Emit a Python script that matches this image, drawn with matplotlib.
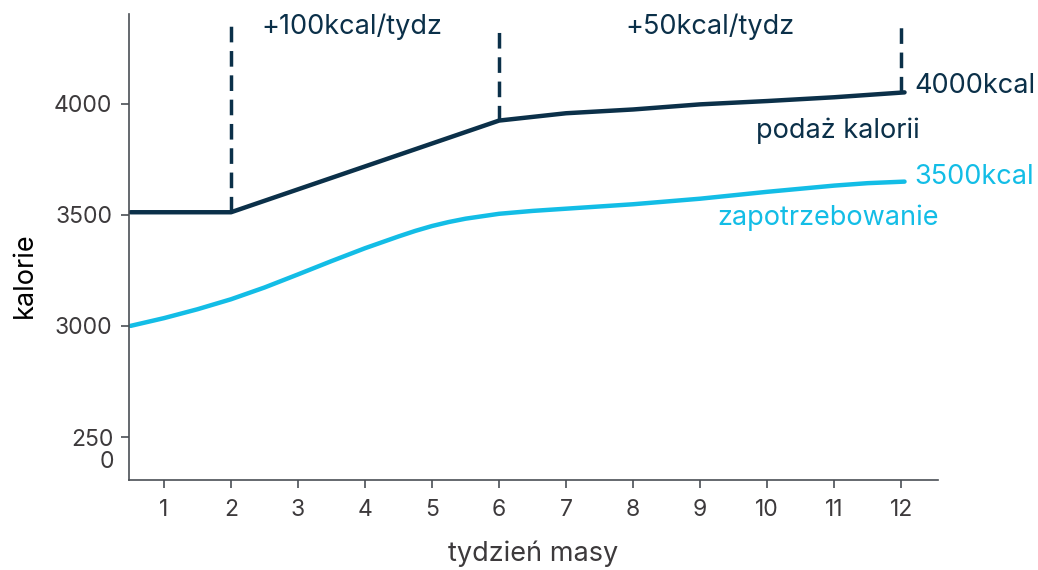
import matplotlib
matplotlib.use("Agg")
import matplotlib.pyplot as plt

# kalorie - podaz vs zapotrzebowanie
weeks_supply = [0.5, 2, 6, 7, 8, 9, 10, 11, 12.05]
supply = [3512, 3512, 3925, 3958, 3975, 3998, 4013, 4030, 4052]

weeks_need = [0.5, 1, 1.5, 2, 2.5, 3, 3.5, 4, 4.5, 4.75, 5, 5.25, 5.5, 6, 6.5, 7, 7.5, 8, 9, 10, 11, 11.5, 12.05]
need = [3000, 3035, 3075, 3120, 3173, 3232, 3292, 3350, 3403, 3428, 3450, 3468, 3483, 3505, 3518, 3528, 3538, 3548, 3573, 3604, 3632, 3643, 3650]

step_weeks = [2, 6, 12]
step_from = [3512, 3925, 4052]
step_top = 4356

xticks = list(range(1, 13))
yticks = [2500, 3000, 3500, 4000]
ytick_labels = ["", "3000", "3500", "4000"]

dark = "#0b3049"
light = "#13bde6"
gray = "#3d3a3c"

plt.rcParams['font.family'] = ['Inter', 'DejaVu Sans']

fig = plt.figure(figsize=(10.38, 5.70), dpi=100)
ax = fig.add_axes([0.1243, 0.158, 0.7794, 0.8174])

ax.plot(weeks_need, need, color=light, lw=3.2, solid_capstyle='round', solid_joinstyle='round')
ax.plot(weeks_supply, supply, color=dark, lw=3.2, solid_capstyle='round', solid_joinstyle='round')
for w, y0 in zip(step_weeks, step_from):
    ax.plot([w, w], [y0, step_top], color=dark, lw=2.5, ls=(0, (4.5, 2.5)))

fs = 19.5
ax.text(3.8, step_top - 10, "+100kcal/tydz", color=dark, fontsize=fs, ha='center', va='center')
ax.text(9.15, step_top - 10, "+50kcal/tydz", color=dark, fontsize=fs, ha='center', va='center')
ax.text(12.2, 4080, "4000kcal", color=dark, fontsize=fs, ha='left', va='center')
ax.text(12.28, 3880, "podaż kalorii", color=dark, fontsize=fs, ha='right', va='center')
ax.text(12.2, 3670, "3500kcal", color=light, fontsize=fs, ha='left', va='center')
ax.text(12.56, 3485, "zapotrzebowanie", color=light, fontsize=fs, ha='right', va='center')

ax.set_xlim(0.478, 12.55)
ax.set_ylim(2306, 4405)
ax.set_xticks(xticks)
ax.set_yticks(yticks)
ax.set_yticklabels(ytick_labels)
ax.tick_params(axis='both', colors="#4a4f55", labelcolor=gray, labelsize=16.5, length=6, width=1.2, direction='out')
ax.tick_params(axis='x', pad=8)
ax.tick_params(axis='y', pad=6)

# the 2500 label is wrapped onto two lines in the original
ax.annotate("250\n0", xy=(0, yticks[0]), xycoords=('axes fraction', 'data'),
            xytext=(-11, 6), textcoords='offset points', ha='right', va='top',
            multialignment='right', fontsize=16.5, color=gray, linespacing=1.05)

for s in ['top', 'right']:
    ax.spines[s].set_visible(False)
for s in ['left', 'bottom']:
    ax.spines[s].set_color("#4a4f55")
    ax.spines[s].set_linewidth(1.2)

ax.set_xlabel("tydzień masy", fontsize=19.5, color=gray, labelpad=14)
ax.set_ylabel("kalorie", fontsize=19.5, color="black")
ax.yaxis.set_label_coords(-0.113, 0.44)

fig.savefig("out.png", dpi=100)
